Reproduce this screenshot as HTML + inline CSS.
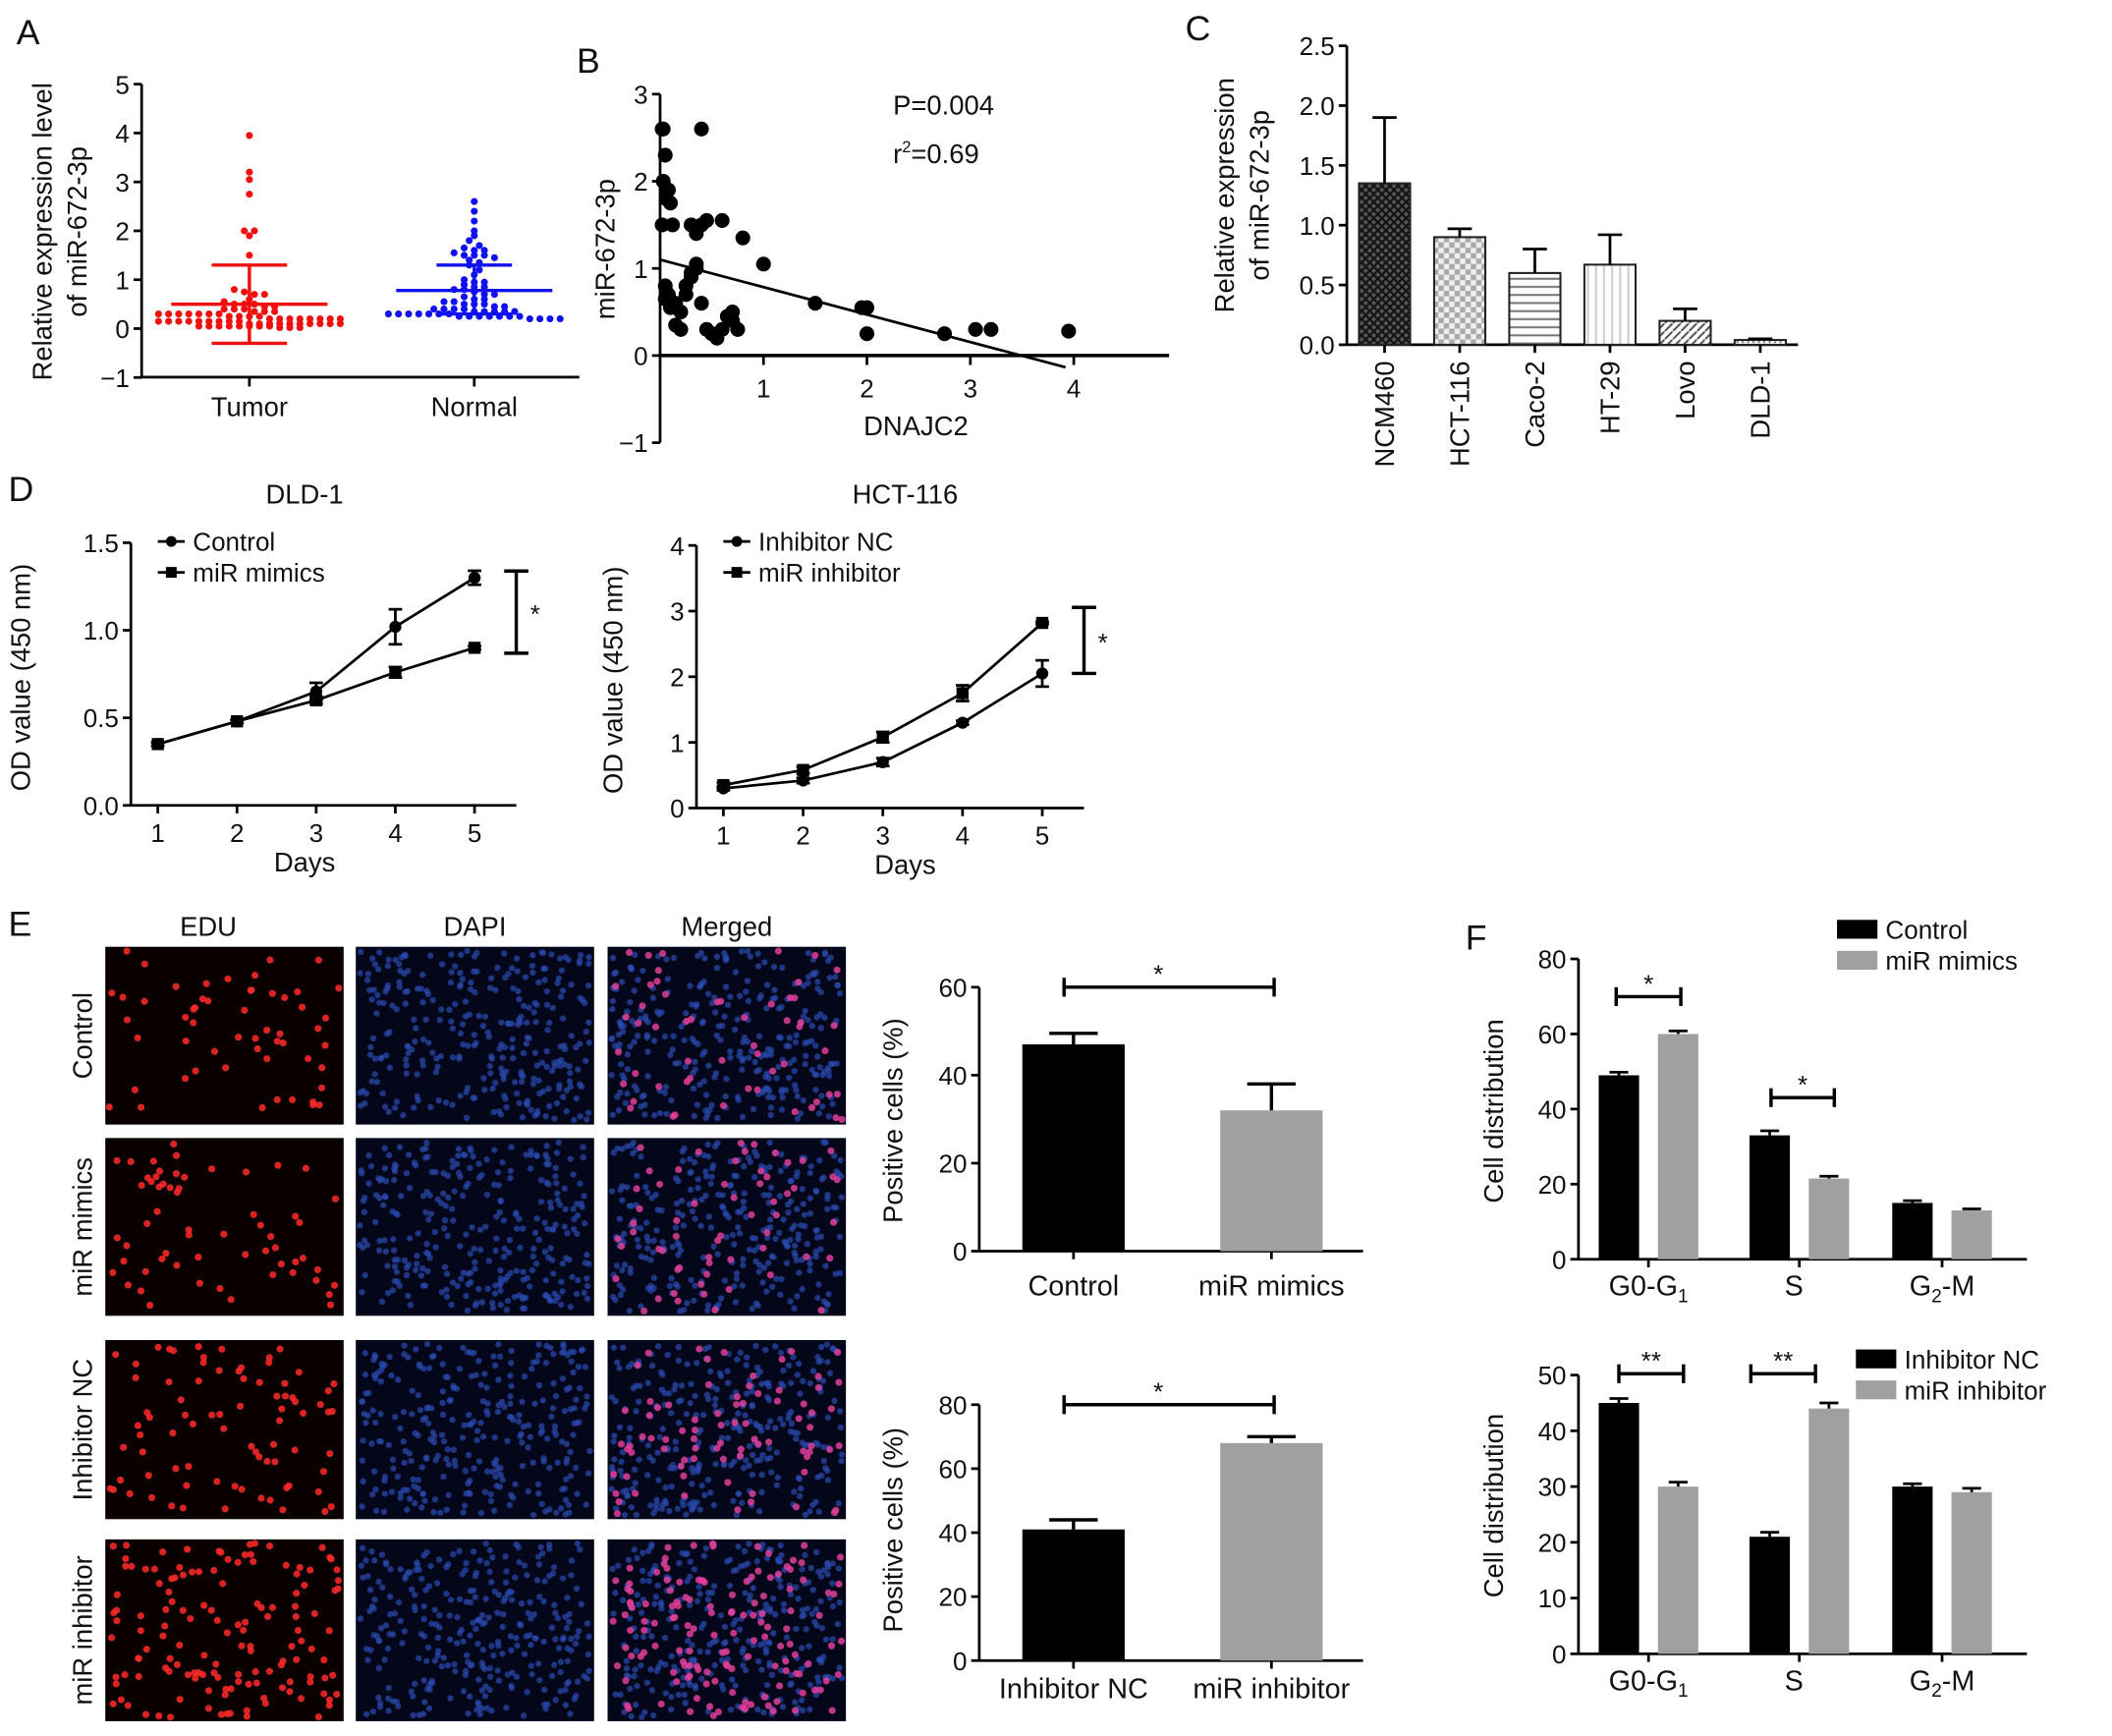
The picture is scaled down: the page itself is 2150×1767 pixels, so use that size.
<!DOCTYPE html>
<html><head><meta charset="utf-8">
<style>
html,body{margin:0;padding:0;background:#fff;}
svg{display:block;font-family:"Liberation Sans",Arial,sans-serif;}
</style></head>
<body>
<svg id="fig" width="2150" height="1767" viewBox="0 0 1568 1289" xmlns="http://www.w3.org/2000/svg">
<defs>
<pattern id="pCross" width="6" height="6" patternUnits="userSpaceOnUse"><rect width="6" height="6" fill="#555"/><path d="M0 0L6 6M6 0L0 6" stroke="#111" stroke-width="1.5"/></pattern>
<pattern id="pCheck" width="8" height="8" patternUnits="userSpaceOnUse"><rect width="8" height="8" fill="#eee"/><rect width="4" height="4" fill="#aaa"/><rect x="4" y="4" width="4" height="4" fill="#aaa"/></pattern>
<pattern id="pHoriz" width="6" height="6" patternUnits="userSpaceOnUse"><rect width="6" height="6" fill="#fff"/><path d="M0 3H6" stroke="#777" stroke-width="1.5"/></pattern>
<pattern id="pVert" width="6" height="6" patternUnits="userSpaceOnUse"><rect width="6" height="6" fill="#fff"/><path d="M3 0V6" stroke="#ccc" stroke-width="1.5"/></pattern>
<pattern id="pDiag" width="6" height="6" patternUnits="userSpaceOnUse"><rect width="6" height="6" fill="#fff"/><path d="M0 6L6 0" stroke="#555" stroke-width="1.5"/></pattern>
<pattern id="pDots" width="4" height="4" patternUnits="userSpaceOnUse"><rect width="4" height="4" fill="#fff"/><circle cx="2" cy="2" r="0.8" fill="#777"/></pattern>
</defs>
<g id="root"></g>
</svg>
<script>
// ---------- Panel A data ----------
const aGroups = ["Tumor","Normal"];
const aTumor = [3.95,3.2,3.05,2.75,2.0,2.0,1.9,1.5,0.8,0.75,0.7,0.7,0.6,0.55,0.5,0.5,0.5,0.45,0.45,0.4,0.4,0.4,0.35,0.35,0.35,0.3,0.3,0.3,0.3,0.3,0.3,0.3,0.25,0.25,0.25,0.25,0.2,0.2,0.2,0.2,0.2,0.2,0.2,0.2,0.15,0.15,0.15,0.15,0.15,0.15,0.15,0.15,0.15,0.1,0.1,0.1,0.1,0.1,0.1,0.1,0.1,0.1,0.1,0.05,0.05,0.05,0.05,0.05,0.05,0.05,0.05,0.02,0.02,0.02];
const aTumorStats = [0.5, 1.3, -0.3];
const aNormal = [2.6,2.4,2.2,2.0,1.9,1.8,1.7,1.65,1.6,1.6,1.55,1.5,1.5,1.5,1.45,1.4,1.35,1.3,1.2,1.1,1.0,0.95,0.95,0.9,0.85,0.85,0.8,0.8,0.75,0.7,0.7,0.65,0.6,0.6,0.55,0.55,0.5,0.5,0.5,0.45,0.45,0.4,0.4,0.4,0.4,0.35,0.35,0.35,0.35,0.35,0.3,0.3,0.3,0.3,0.3,0.3,0.3,0.25,0.25,0.25,0.25,0.25,0.25,0.25,0.2,0.2,0.2,0.2];
const aNormalStats = [0.78, 1.3, 0.3];
const aTicks = [5,4,3,2,1,0,-1];
// ---------- Panel B data ----------
const bX = [0.02,0.05,0.03,0.08,0.06,0.1,0.12,0.05,0.08,0.15,0.2,0.3,0.35,0.4,0.45,0.6,0.8,0.05,0.1,0.15,0.2,0.25,0.3,0.35,0.25,0.3,0.35,0.4,0.45,0.5,0.55,0.6,0.65,0.7,0.75,0.4,1.0,1.5,1.95,2.0,2.0,2.75,3.05,3.2,3.95,0.02,0.03,0.7];
const bY = [2.6,2.3,2.0,1.9,1.8,1.75,1.5,0.8,0.7,0.6,0.5,1.5,1.4,1.5,1.55,1.55,1.35,0.65,0.55,0.35,0.3,0.8,0.9,1.0,0.7,0.95,1.05,0.6,0.3,0.25,0.2,0.3,0.45,0.4,0.3,2.6,1.05,0.6,0.55,0.55,0.25,0.25,0.3,0.3,0.28,1.5,2.6,0.5];
const bFit = [1.1, -0.315];
const bXTicks = [1,2,3,4];
const bYTicks = [3,2,1,0,-1];
// ---------- Panel C data ----------
const cLines = ["NCM460","HCT-116","Caco-2","HT-29","Lovo","DLD-1"];
const cVals = [1.35,0.9,0.6,0.67,0.2,0.04];
const cErr = [0.55,0.07,0.2,0.25,0.1,0.01];
const cFills = ["url(#pCross)","url(#pCheck)","url(#pHoriz)","url(#pVert)","url(#pDiag)","url(#pDots)"];
const cTicks = [0,0.5,1.0,1.5,2.0,2.5];
// ---------- Panel D data ----------
const dDays = [1,2,3,4,5];
const dL_ctrl = [0.35,0.48,0.65,1.02,1.3];
const dL_ctrlErr = [0.01,0.01,0.05,0.1,0.04];
const dL_mim = [0.35,0.48,0.6,0.76,0.9];
const dL_mimErr = [0.01,0.01,0.02,0.03,0.01];
const dLTicks = [0,0.5,1.0,1.5];
const dR_nc = [0.3,0.42,0.7,1.3,2.05];
const dR_ncErr = [0.03,0.04,0.06,0.03,0.2];
const dR_inh = [0.35,0.58,1.08,1.75,2.82];
const dR_inhErr = [0.04,0.05,0.08,0.12,0.02];
const dRTicks = [0,1,2,3,4];
// ---------- Panel E data ----------
const eTopCats = ["Control","miR mimics"];
const eTopVals = [47,32];
const eTopErr = [2.5,6];
const eTopTicks = [0,20,40,60];
const eBotCats = ["Inhibitor NC","miR inhibitor"];
const eBotVals = [41,68];
const eBotErr = [3,2];
const eBotTicks = [0,20,40,60,80];
// ---------- Panel F data ----------
const fPhases = ["G0-G1","S","G2-M"];
const fTopCtrl = [49,33,15];
const fTopMim = [60,21.5,13];
const fTopCtrlErr = [0.8,1.2,0.6];
const fTopMimErr = [0.8,0.6,0.4];
const fTopTicks = [0,20,40,60,80];
const fBotNC = [45,21,30];
const fBotInh = [30,44,29];
const fBotNCErr = [0.8,0.8,0.5];
const fBotInhErr = [0.8,1.0,0.7];
const fBotTicks = [0,10,20,30,40,50];

const NS = "http://www.w3.org/2000/svg";
const root = document.getElementById("root");
function el(tag, attrs, parent, txt){
  const e = document.createElementNS(NS, tag);
  for (const k in attrs) e.setAttribute(k, attrs[k]);
  if (txt !== undefined) e.textContent = txt;
  (parent || root).appendChild(e);
  return e;
}
function grp(name){
  const g = el("g", {});
  
  
  return g;
}
function line(p, x1,y1,x2,y2,w,c){ return el("line",{x1,y1,x2,y2,stroke:c||"#000","stroke-width":w||2},p); }
function text(p,x,y,s,size,anchor,extra){
  const a = Object.assign({x,y,"font-size":size||19,"text-anchor":anchor||"middle",fill:"#111"}, extra||{});
  return el("text",a,p,s);
}
function yAxis(p, x, ticks, sc, fmt){
  const ax = grp("y-axis"); p.appendChild(ax);
  line(ax, x, sc(ticks[0]), x, sc(ticks[ticks.length-1]), 2);
  ticks.forEach(t=>{
    line(ax, x-6, sc(t), x, sc(t), 2);
    const tl = text(ax, x-9, sc(t)+7, fmt?fmt(t):String(t).replace("-","\u2212"), 19, "end");
    
    
  });
  return ax;
}
function ytitle(p, x, y, lines){
  const t = grp("y-axis-title"); p.appendChild(t);
  lines.forEach((s,i)=> text(t, 0, 0, s, 20, "middle", {transform:`translate(${x+i*26},${y}) rotate(-90)`}));
}
function letter(s,x,y){ const t=text(root,x,y,s,26,"start");   }

// ===== Panel A =====
(function(){
  const g = grp("panel-a-dot-plot");
  const sy = v => 244 - v*36.3;
  yAxis(g, 105, aTicks.slice().reverse(), sy);
  line(g, 105, 280, 430, 280, 2);
  const centers = [185, 352];
  centers.forEach((c,i)=>{ line(g,c,280,c,287,2); const t=text(g,c,309,aGroups[i],20);   });
  ytitle(g, 38, 172, ["Relative expression level","of miR-672-3p"]);
  [[aTumor,aTumorStats,"#f01010"],[aNormal,aNormalStats,"#1010f0"]].forEach((d,i)=>{
    const vals=d[0], st=d[1], col=d[2], cx=centers[i];
    const bins = {};
    vals.forEach(v=>{ const b=Math.round(v*8); bins[b]=(bins[b]||[]); bins[b].push(v); });
    Object.keys(bins).forEach(b=>{
      const arr = bins[b]; const n = arr.length;
      arr.forEach((v,k)=>{
        const off = (k - (n-1)/2) * 7.5;
        const pt = el("circle",{cx:cx+off, cy:sy(v), r:2.6, fill:col}, g);
        
        
      });
    });
    line(g, cx-58, sy(st[0]), cx+58, sy(st[0]), 2.5, col);
    line(g, cx, sy(st[1]), cx, sy(st[2]), 2.5, col);
    line(g, cx-28, sy(st[1]), cx+28, sy(st[1]), 2.5, col);
    line(g, cx-28, sy(st[2]), cx+28, sy(st[2]), 2.5, col);
  });
})();

// ===== Panel B =====
(function(){
  const g = grp("panel-b-scatter");
  const sx = v => 490 + v*76.8, sy = v => 264 - v*64.7;
  yAxis(g, 490, bYTicks, sy);
  line(g, 490, 264, 868, 264, 2.5);
  bXTicks.forEach(t=>{ line(g,sx(t),264,sx(t),271,2); text(g,sx(t),295,String(t),19); });
  ytitle(g, 456, 185, ["miR-672-3p"]);
  const xt=text(g,680,323,"DNAJC2",20);  
  bX.forEach((x,i)=>{ const p=el("circle",{cx:sx(x),cy:sy(bY[i]),r:5.5,fill:"#000"},g);   });
  const x0=0, x1=3.92;
  const fl=line(g, sx(x0), sy(bFit[0]+bFit[1]*x0), sx(x1), sy(bFit[0]+bFit[1]*x1), 2);
  
  
  text(g,663,85,"P=0.004",20,"start");
  const r=text(g,663,121,"",20,"start");
  r.innerHTML = 'r<tspan font-size="12" dy="-8">2</tspan><tspan dy="8">=0.69</tspan>';
})();

// ===== Panel C =====
(function(){
  const g = grp("panel-c-bar-chart");
  const sy = v => 256 - v*88.8;
  yAxis(g, 1000, cTicks, sy, t=>t.toFixed(1));
  line(g, 1000, 256, 1335, 256, 2);
  ytitle(g, 916, 145, ["Relative expression","of miR-672-3p"]);
  cLines.forEach((c,i)=>{
    const cx = 1028 + i*55.8;
    const b=el("rect",{x:cx-19,y:sy(cVals[i]),width:38,height:256-sy(cVals[i]),fill:cFills[i],stroke:"#222","stroke-width":1.5},g);
    
    
    line(g,cx,sy(cVals[i]),cx,sy(cVals[i]+cErr[i]),2);
    line(g,cx-9,sy(cVals[i]+cErr[i]),cx+9,sy(cVals[i]+cErr[i]),2);
    line(g,cx,256,cx,262,2);
    text(g,0,0,c,20,"end",{transform:`translate(${cx+7},${268}) rotate(-90)`});
  });
})();

// ===== Panel D =====
function linePanel(name, ox, xsp, y0, yscale, ticks, fmt, s1, e1, s2, e2, names, title, brY1, brY2, ylabX, titleX){
  const g = grp(name);
  const sx = d => ox + 20 + (d-1)*xsp, sy = v => y0 - v*yscale;
  yAxis(g, ox, ticks, sy, fmt);
  line(g, ox, y0, sx(5)+31, y0, 2);
  dDays.forEach(d=>{ line(g,sx(d),y0,sx(d),y0+6,2); text(g,sx(d),y0+27,String(d),19); });
  text(g, titleX, y0+49, "Days", 20);
  text(g, titleX, 374, title, 20);
  ytitle(g, ylabX, y0-95, ["OD value (450 nm)"]);
  [[s1,e1,"circle"],[s2,e2,"square"]].forEach((sr,k)=>{
    const vals=sr[0], err=sr[1];
    const pl = el("polyline",{points:vals.map((v,i)=>sx(dDays[i])+","+sy(v)).join(" "),fill:"none",stroke:"#000","stroke-width":2},g);
    
    
    vals.forEach((v,i)=>{
      const x=sx(dDays[i]);
      line(g,x,sy(v-err[i]),x,sy(v+err[i]),2); line(g,x-5,sy(v+err[i]),x+5,sy(v+err[i]),2); line(g,x-5,sy(v-err[i]),x+5,sy(v-err[i]),2);
      if(sr[2]==="circle") el("circle",{cx:x,cy:sy(v),r:4.5,fill:"#000"},g);
      else el("rect",{x:x-4.5,y:sy(v)-4.5,width:9,height:9,fill:"#000"},g);
    });
  });
  const lg = grp("legend"); g.appendChild(lg);
  [[402,"circle"],[425,"square"]].forEach((r,k)=>{
    line(lg, ox+20, r[0], ox+40, r[0], 2);
    if(r[1]==="circle") el("circle",{cx:ox+30,cy:r[0],r:4,fill:"#000"},lg); else el("rect",{x:ox+26,y:r[0]-4,width:8,height:8,fill:"#000"},lg);
    text(lg, ox+46, r[0]+7, names[k], 19, "start");
  });
  const bx = sx(5)+31;
  line(g,bx,brY1,bx,brY2,2.5); line(g,bx-9,brY1,bx+9,brY1,2.5); line(g,bx-9,brY2,bx+9,brY2,2.5);
  text(g,bx+14,(brY1+brY2)/2+8,"*",19);
}
linePanel("panel-d-dld1-growth", 97, 58.8, 598, 130, dLTicks, t=>t.toFixed(1), dL_ctrl, dL_ctrlErr, dL_mim, dL_mimErr, ["Control","miR mimics"], "DLD-1", 424, 485, 22, 226);
linePanel("panel-d-hct116-growth", 517, 59.2, 600, 48.75, dRTicks, null, dR_nc, dR_ncErr, dR_inh, dR_inhErr, ["Inhibitor NC","miR inhibitor"], "HCT-116", 451, 500, 462, 672);

// ===== Panel E images =====
(function(){
  const g = grp("panel-e-micrographs");
  const cols = [[78,177],[264,177],[451,177]];
  const rows = [[703,132],[845,132],[995,133],[1143,135]];
  const heads = ["EDU","DAPI","Merged"];
  const rl = ["Control","miR mimics","Inhibitor NC","miR inhibitor"];
  heads.forEach((h,i)=>text(g,cols[i][0]+cols[i][1]/2-(i==0?12:0),695,h,20));
  let seed = 7; const rnd = ()=>{ seed = (seed*16807)%2147483647; return seed/2147483647; };
  const redCounts=[55,60,80,140];
  rows.forEach((r,ri)=>{
    text(g,0,0,rl[ri],20,"middle",{transform:`translate(${68},${r[0]+r[1]/2}) rotate(-90)`});
    cols.forEach((c,ci)=>{
      const im=el("rect",{x:c[0],y:r[0],width:c[1],height:r[1],fill:ci==0?"#0a0000":"#04061a"},g);
      
      
      if(ci>0){
        for(let k=0;k<300;k++) el("circle",{cx:c[0]+3+rnd()*(c[1]-6),cy:r[0]+3+rnd()*(r[1]-6),r:2.3,fill:"#2a4bb0","fill-opacity":0.7},g);
      }
      if(ci!=1){
        for(let k=0;k<redCounts[ri];k++) el("circle",{cx:c[0]+3+rnd()*(c[1]-6),cy:r[0]+3+rnd()*(r[1]-6),r:2.6,fill:ci==0?"#ff2a2a":"#e0409a","fill-opacity":0.85},g);
      }
    });
  });
})();

// ===== Panel E bars =====
function eBars(name, y0, top, ticks, cats, vals, errs, brY, labY){
  const g = grp(name);
  const sc = (y0-top)/ticks[ticks.length-1];
  const sy = v => y0 - v*sc;
  yAxis(g, 727, ticks, sy);
  line(g, 727, y0, 1012, y0, 2);
  ytitle(g, 670, y0-97, ["Positive cells (%)"]);
  const cx=[797,944], fills=["#000","#a0a0a0"];
  cats.forEach((c,i)=>{
    const b=el("rect",{x:cx[i]-38,y:sy(vals[i]),width:76,height:y0-sy(vals[i]),fill:fills[i]},g);
    
    
    line(g,cx[i],sy(vals[i]),cx[i],sy(vals[i]+errs[i]),2.5);
    line(g,cx[i]-18,sy(vals[i]+errs[i]),cx[i]+18,sy(vals[i]+errs[i]),2.5);
    line(g,cx[i],y0,cx[i],y0+6,2);
    text(g,cx[i],labY,c,21);
  });
  line(g,790,brY,946,brY,2.5); line(g,790,brY-7,790,brY+7,2.5); line(g,946,brY-7,946,brY+7,2.5);
  text(g,860,brY-3,"*",19);
}
eBars("panel-e-positive-cells-mimics", 929, 733, eTopTicks, eTopCats, eTopVals, eTopErr, 733, 962);
eBars("panel-e-positive-cells-inhibitor", 1233, 1043, eBotTicks, eBotCats, eBotVals, eBotErr, 1043, 1261);

// ===== Panel F =====
function fBars(name, y0, top, ticks, a, ae, b, be, names, legY, brs, labY, stars){
  const g = grp(name);
  const sc = (y0-top)/ticks[ticks.length-1];
  const sy = v => y0 - v*sc;
  yAxis(g, 1172, ticks, sy);
  line(g, 1172, y0, 1505, y0, 2);
  ytitle(g, 1116, y0-110, ["Cell distribution"]);
  const centers=[1224,1336,1442];
  fPhases.forEach((p,i)=>{
    [[a,ae,"#000",-22],[b,be,"#a0a0a0",22]].forEach((s,k)=>{
      const x=centers[i]+s[3], v=s[0][i], e=s[1][i];
      const r=el("rect",{x:x-15,y:sy(v),width:30,height:y0-sy(v),fill:s[2]},g);
      
      
      line(g,x,sy(v),x,sy(v+e),2); line(g,x-7,sy(v+e),x+7,sy(v+e),2);
    });
    line(g,centers[i],y0,centers[i],y0+6,2);
  });
  [0,1,2].forEach(i=>{
    const t=text(g,centers[i]-(i==1?4:0),labY,"",21);
    if(i==0) t.innerHTML='G0-G<tspan font-size="14" dy="5">1</tspan>';
    else if(i==1) t.textContent="S";
    else t.innerHTML='G<tspan font-size="14" dy="5">2</tspan><tspan dy="-5">-M</tspan>';
  });
  const lg=grp("legend"); g.appendChild(lg);
  [["#000",0],["#a0a0a0",1]].forEach(c=>{
    el("rect",{x:names[2],y:legY+c[1]*23-7,width:30,height:14,fill:c[0]},lg);
    text(lg,names[2]+36,legY+c[1]*23+7,names[c[1]],19,"start");
  });
  brs.forEach((br)=>{
    const [x1,x2,y]=br;
    line(g,x1,y,x2,y,2.5); line(g,x1,y-7,x1,y+7,2.5); line(g,x2,y-7,x2,y+7,2.5);
    text(g,(x1+x2)/2,y-3,stars,19);
  });
}
fBars("panel-f-cell-cycle-mimics", 935, 712, fTopTicks, fTopCtrl, fTopCtrlErr, fTopMim, fTopMimErr, ["Control","miR mimics",1364], 690, [[1200,1248,740],[1315,1362,815]], 962, "*");
fBars("panel-f-cell-cycle-inhibitor", 1228, 1021, fBotTicks, fBotNC, fBotNCErr, fBotInh, fBotInhErr, ["Inhibitor NC","miR inhibitor",1378], 1009, [[1202,1250,1020],[1300,1348,1020]], 1255, "**");

letter("A",12,33); letter("B",428,54); letter("C",880,30); letter("D",6,372); letter("E",6,695); letter("F",1088,705);
</script>
</body></html>
